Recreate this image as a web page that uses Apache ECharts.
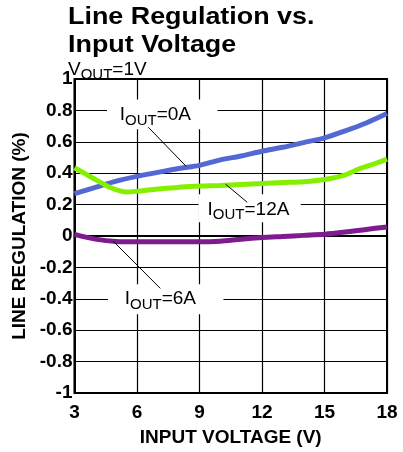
<!DOCTYPE html>
<html>
<head>
<meta charset="utf-8">
<script src="https://cdn.jsdelivr.net/npm/echarts@6/dist/echarts.min.js"></script>
<style>
html,body{margin:0;padding:0;background:#fff;}
#chart{width:403px;height:452px;}
</style>
</head>
<body>
<div id="chart"></div>
<script>
// ---- data ----
var xTicks = [3, 6, 9, 12, 15, 18];
var yTicks = [-1, -0.8, -0.6, -0.4, -0.2, 0, 0.2, 0.4, 0.6, 0.8, 1];

var vin0A = [3, 4, 5, 6, 7, 8, 9, 10, 11, 12, 13, 14, 15, 16, 17, 18];
var reg0A = [0.27, 0.31, 0.35, 0.38, 0.405, 0.43, 0.45, 0.485, 0.51, 0.54, 0.565, 0.595, 0.625, 0.67, 0.72, 0.78];

var vin12A = [3, 4, 4.7, 5.5, 6, 7, 8, 9, 10, 11, 12, 13, 14, 15, 16, 16.7, 17.5, 18];
var reg12A = [0.435, 0.36, 0.31, 0.28, 0.285, 0.30, 0.31, 0.318, 0.322, 0.328, 0.334, 0.34, 0.346, 0.36, 0.39, 0.43, 0.465, 0.49];

var vin6A = [3, 4, 5, 6, 7, 8, 9, 10, 11, 12, 13, 14, 15, 16, 17, 18];
var reg6A = [0.01, -0.02, -0.035, -0.037, -0.037, -0.037, -0.037, -0.033, -0.02, -0.01, -0.003, 0.004, 0.011, 0.025, 0.042, 0.058];

var titleText = 'Line Regulation vs.\nInput Voltage';
var xName = 'INPUT VOLTAGE (V)';
var yName = 'LINE REGULATION (%)';

// annotations (data coordinates)
var notes = [
  { main: 'I', sub: 'OUT', rest: '=0A', at: [6.88, 0.757], box: [4.56, 0.87, 9.86, 0.68], lead: [[6.54, 0.693], [8.35, 0.445]] },
  { main: 'I', sub: 'OUT', rest: '=12A', at: [11.35, 0.157], box: [8.95, 0.266, 13.86, 0.087], lead: [[10.25, 0.33], [11.29, 0.215]] },
  { main: 'I', sub: 'OUT', rest: '=6A', at: [7.12, -0.41], box: [4.61, -0.308, 10.15, -0.499], lead: [[4.85, -0.032], [7.12, -0.334]] }
];

function zip(xs, ys) { return xs.map(function (x, i) { return [x, ys[i]]; }); }

var chart = echarts.init(document.getElementById('chart'));
var FONT = 'Liberation Sans, Arial, sans-serif';

var option = {
  animation: false,
  backgroundColor: '#fff',
  grid: { left: 74.5, right: 16, top: 79, bottom: 59, show: true, borderColor: '#000', borderWidth: 2, backgroundColor: 'transparent' },
  xAxis: {
    type: 'value', min: 3, max: 18, interval: 3,
    name: xName, nameLocation: 'middle', nameGap: 35,
    nameTextStyle: { fontFamily: FONT, fontWeight: 'bold', fontSize: 19, color: '#000' },
    axisLine: { show: true, lineStyle: { color: '#000', width: 2 } },
    axisTick: { show: false },
    axisLabel: { fontFamily: FONT, fontWeight: 'bold', fontSize: 19, color: '#000', margin: 10,
      customValues: xTicks },
    splitLine: { show: true, lineStyle: { color: '#000', width: 1.2 } }
  },
  yAxis: {
    type: 'value', min: -1, max: 1, interval: 0.2,
    name: yName, nameLocation: 'middle', nameGap: 39,
    nameTextStyle: { fontFamily: FONT, fontWeight: 'bold', fontSize: 19, color: '#000' },
    axisLine: { show: true, lineStyle: { color: '#000', width: 2 } },
    axisTick: { show: false },
    axisLabel: { fontFamily: FONT, fontWeight: 'bold', fontSize: 19, color: '#000', margin: 2,
      formatter: function (v) { return String(Math.round(v * 10) / 10); } },
    splitLine: { show: true, lineStyle: { color: '#000', width: 1.2 } }
  },
  series: [
    { type: 'line', name: 'IOUT=0A', data: zip(vin0A, reg0A), showSymbol: false, smooth: 0.3,
      lineStyle: { color: '#5468d4', width: 5 }, z: 5 },
    { type: 'line', name: 'IOUT=12A', data: zip(vin12A, reg12A), showSymbol: false, smooth: 0.3,
      lineStyle: { color: '#84f000', width: 5 }, z: 5 },
    { type: 'line', name: 'IOUT=6A', data: zip(vin6A, reg6A), showSymbol: false, smooth: 0.3,
      lineStyle: { color: '#7e1b8e', width: 5 }, z: 5 }
  ]
};
chart.setOption(option);

function px(p) { return chart.convertToPixel({ gridIndex: 0 }, p); }

var graphics = [
  { type: 'text', x: 68, y: 3, scaleX: 1.12, z: 20,
    style: { text: titleText, fontFamily: FONT, fontWeight: 'bold', fontSize: 24, lineHeight: 28, fill: '#000' } },
  { type: 'text', left: 68, top: 60, z: 20,
    style: { text: '{a|V}{b|OUT}{a|=1V}', fill: '#000',
      rich: {
        a: { fontFamily: FONT, fontSize: 19, lineHeight: 22, verticalAlign: 'top', fill: '#000' },
        b: { fontFamily: FONT, fontSize: 15, lineHeight: 22, verticalAlign: 'bottom', fill: '#000' }
      } } }
];

notes.forEach(function (n) {
  var p1 = px([n.box[0], n.box[1]]), p2 = px([n.box[2], n.box[3]]);
  graphics.push({ type: 'rect', z: 10, silent: true,
    shape: { x: p1[0], y: p1[1], width: p2[0] - p1[0], height: p2[1] - p1[1] },
    style: { fill: '#fff' } });
  var a = px(n.lead[0]), b = px(n.lead[1]);
  graphics.push({ type: 'line', z: 11, silent: true,
    shape: { x1: a[0], y1: a[1], x2: b[0], y2: b[1] },
    style: { stroke: '#000', lineWidth: 1 } });
  var c = px(n.at);
  graphics.push({ type: 'text', z: 12, x: c[0], y: c[1], silent: true,
    style: { text: '{a|' + n.main + '}{b|' + n.sub + '}{a|' + n.rest + '}',
      align: 'center', verticalAlign: 'middle', fill: '#000',
      rich: {
        a: { fontFamily: FONT, fontSize: 19, lineHeight: 23, verticalAlign: 'top', fill: '#000' },
        b: { fontFamily: FONT, fontSize: 15, lineHeight: 23, verticalAlign: 'bottom', fill: '#000' }
      } } });
});

chart.setOption({ graphic: graphics });
</script>
</body>
</html>
